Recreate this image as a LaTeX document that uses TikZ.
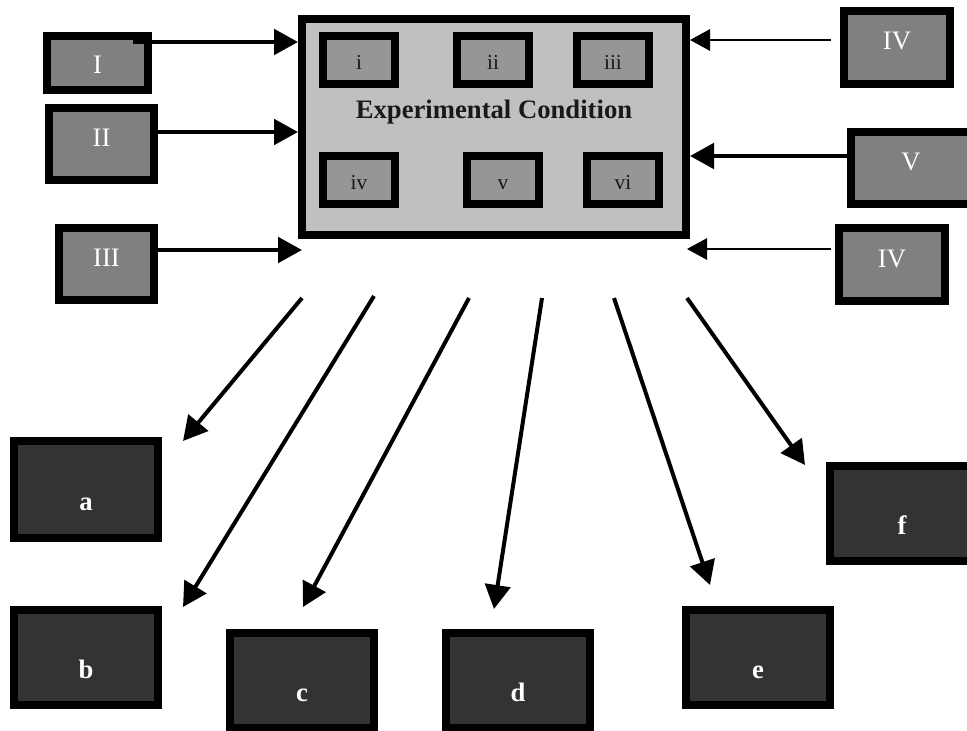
\documentclass[tikz,border=0pt]{standalone}
\usepackage{xcolor}
\usepackage{fontspec}
\setmainfont{Liberation Serif}
\usepackage{tikz}
\usetikzlibrary{arrows.meta}
\definecolor{condgray}{HTML}{C0C0C0}
\definecolor{subgray}{HTML}{969696}
\definecolor{factgray}{HTML}{808080}
\definecolor{outdark}{HTML}{333333}
\tikzset{>={Triangle[length=18pt,width=19pt]}}
\tikzstyle{cond} = [rectangle, draw=black, line width=6pt, fill=condgray, inner sep=0pt, font=\fontsize{20}{24}\selectfont\bfseries, text=black!90, text height=10pt, text depth=22pt]
\tikzstyle{sub} = [rectangle, draw=black, line width=6pt, fill=subgray, inner sep=0pt, minimum width=54pt, minimum height=36pt, font=\fontsize{16}{19}\selectfont, text=black!90, text height=15pt, text depth=0pt]
\tikzstyle{factor} = [rectangle, draw=black, line width=6pt, fill=factgray, inner sep=0pt, font=\fontsize{20}{24}\selectfont, text=white, text height=14pt, text depth=10.25pt]
\tikzstyle{outcome} = [rectangle, draw=black, line width=6pt, fill=outdark, inner sep=0pt, minimum width=108pt, font=\fontsize{20}{24}\selectfont\bfseries, text=white, text height=31pt, text depth=0pt]
\tikzstyle{flow} = [->, line width=3pt]
\tikzstyle{thinflow} = [-{Triangle[length=15pt,width=16pt]}, line width=1.5pt]

\begin{document}
\begin{tikzpicture}[x=0.75pt, y=-0.75pt]
\useasboundingbox (0,0) rectangle (967,731);
% experimental condition and its parts
\node [cond, minimum width=288pt, minimum height=162pt] (cond) at (494,127) {Experimental Condition};
\node [sub] (i) at (359,60) {i};
\node [sub] (ii) at (493,60) {ii};
\node [sub] (iii) at (613,60) {iii};
\node [sub] (iv) at (359,180) {iv};
\node [sub] (v) at (503,180) {v};
\node [sub] (vi) at (623,180) {vi};
% inputs
\node [factor, minimum width=75.75pt, minimum height=40.5pt, text height=16.5pt, text depth=0pt] (I) at (97.5,63) {I};
\node [factor, minimum width=78.75pt, minimum height=54pt] (II) at (101.5,144) {II};
\node [factor, minimum width=71.25pt, minimum height=54pt] (III) at (106.5,264) {III};
\node [factor, minimum width=79.5pt, minimum height=54.75pt] (IVa) at (897,47.5) {IV};
\node [factor, minimum width=90pt, minimum height=54pt] (V) at (911,168) {V};
\node [factor, minimum width=79.5pt, minimum height=54.75pt] (IVb) at (892,264.5) {IV};
% outcomes
\node [outcome, minimum height=72.75pt] (a) at (86,489.5) {a};
\node [outcome, minimum height=71.25pt] (b) at (86,657.5) {b};
\node [outcome, minimum height=71.25pt] (c) at (302,680.5) {c};
\node [outcome, minimum height=71.25pt] (d) at (518,680.5) {d};
\node [outcome, minimum height=71.25pt] (e) at (758,657.5) {e};
\node [outcome, minimum height=71.25pt] (f) at (902,513.5) {f};
% arrows into the condition
\coordinate (Iout) at (133,42);
\coordinate (IVaout) at (831,40);
\coordinate (IVbout) at (831,249);
\draw [flow] (Iout) -- (Iout -| cond.west);
\draw [flow] (II.east |- 0,132) -- (cond.west |- 0,132);
\draw [flow] (III.east |- 0,250) -- (302,250);
\draw [thinflow] (IVaout) -- (cond.east |- IVaout);
\draw [flow] (V.west |- 0,156) -- (cond.east |- 0,156);
\draw [thinflow] (IVbout) -- (687,249);
% arrows out to the outcomes
\coordinate (sa) at (302,298);
\coordinate (sb) at (374,296);
\coordinate (sc) at (469,298);
\coordinate (sd) at (542,298);
\coordinate (se) at (614,298);
\coordinate (sf) at (687,298);
\coordinate (ta) at (183,441);
\coordinate (tb) at (183,607);
\coordinate (tc) at (303,607);
\coordinate (td) at (494,609);
\coordinate (te) at (710,585);
\coordinate (tf) at (805,465);
\draw [flow] (sa) -- (ta);
\draw [flow] (sb) -- (tb);
\draw [flow] (sc) -- (tc);
\draw [flow] (sd) -- (td);
\draw [flow] (se) -- (te);
\draw [flow] (sf) -- (tf);
\end{tikzpicture}
\end{document}
